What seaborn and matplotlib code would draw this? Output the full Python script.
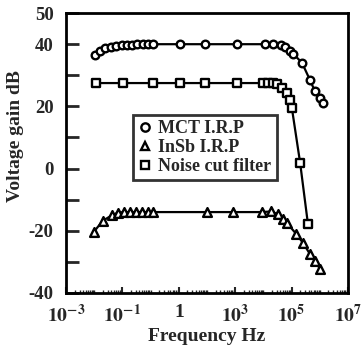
import matplotlib
matplotlib.use("Agg")
import matplotlib.pyplot as plt
import numpy as np
import pandas as pd
import seaborn as sns
from matplotlib.lines import Line2D
from matplotlib.ticker import FixedLocator, FixedFormatter, NullFormatter

# ---------------- data ----------------
mct_freq = [0.0107, 0.0166, 0.025, 0.039, 0.060, 0.093, 0.14, 0.22, 0.34, 0.52, 0.79, 1.23,
            11, 85, 1150, 11500, 21900, 41700, 58900, 87100, 112000, 234000, 447000,
            676000, 1020000, 1320000]
mct_gain = [36.5, 37.9, 38.7, 39.2, 39.5, 39.7, 39.8, 39.9, 40.0, 40.0, 40.0, 40.0,
            40.0, 40.0, 40.0, 40.0, 40.0, 39.8, 39.0, 37.8, 37.0, 34.0, 28.5,
            24.8, 22.7, 21.0]

insb_freq = [0.0098, 0.020, 0.043, 0.069, 0.115, 0.19, 0.30, 0.50, 0.81, 1.2,
             98, 830, 8900, 18600, 33000, 50000, 69000, 145000, 257000, 447000,
             676000, 1020000]
insb_gain = [-20.3, -16.8, -15.0, -14.2, -14.0, -14.0, -14.0, -14.0, -14.0, -14.0,
             -14.0, -14.0, -14.0, -13.8, -14.7, -16.2, -17.6, -21.0, -24.0, -27.5,
             -29.8, -32.3]

noise_freq = [0.0112, 0.107, 1.2, 11, 85, 1150, 9800, 14500, 21900, 30200, 45700,
              69200, 87100, 102000, 200000, 380000]
noise_gain = [27.5, 27.5, 27.5, 27.5, 27.5, 27.5, 27.5, 27.5, 27.5, 27.3, 25.9,
              24.3, 22.1, 19.5, 1.9, -17.9]

series_names = ["MCT I.R.P", "InSb I.R.P", "Noise cut filter"]
series_markers = ["o", "^", "s"]

y_ticks = [-40, -30, -20, -10, 0, 10, 20, 30, 40, 50]
y_ticklabels = ["-40", "", "-20", "", "0", "", "20", "", "40", "50"]
x_ticks = [1e-3, 1e-1, 1e1, 1e3, 1e5, 1e7]
x_ticklabels = ["$10^{-3}$", "$10^{-1}$", "1", "$10^{3}$", "$10^{5}$", "$10^{7}$"]

# ---------------- style ----------------
sns.set_theme(style="ticks")
plt.rcParams["font.family"] = ["Liberation Serif", "DejaVu Serif"]
plt.rcParams["font.weight"] = "bold"
plt.rcParams["mathtext.fontset"] = "stix"
plt.rcParams["mathtext.default"] = "bf"

df = pd.concat([
    pd.DataFrame({"freq": mct_freq, "gain": mct_gain, "series": series_names[0]}),
    pd.DataFrame({"freq": insb_freq, "gain": insb_gain, "series": series_names[1]}),
    pd.DataFrame({"freq": noise_freq, "gain": noise_gain, "series": series_names[2]}),
], ignore_index=True)

fig = plt.figure(figsize=(3.61, 3.45), dpi=100)
ax = fig.add_axes([0.183, 0.151, 0.781, 0.811])

black = {n: "black" for n in series_names}
sns.lineplot(data=df, x="freq", y="gain", hue="series", palette=black,
             sort=False, estimator=None, legend=False, linewidth=1.6, ax=ax)

sizes = {"o": 30, "^": 40, "s": 32}
for name, mk in zip(series_names, series_markers):
    sub = df[df["series"] == name]
    sns.scatterplot(x=sub["freq"], y=sub["gain"], marker=mk, s=sizes[mk],
                    facecolor="white", edgecolor="black", linewidth=1.7,
                    zorder=3, legend=False, ax=ax)

ax.set_xscale("log")
ax.set_xlim(1e-3, 1e7)
ax.set_ylim(-40, 50)

ax.yaxis.set_major_locator(FixedLocator(y_ticks))
ax.yaxis.set_major_formatter(FixedFormatter(y_ticklabels))
ax.xaxis.set_major_locator(FixedLocator(x_ticks))
ax.xaxis.set_major_formatter(FixedFormatter(x_ticklabels))
minor = []
for d in range(-3, 7):
    for m in range(1, 10):
        v = m * 10.0 ** d
        if v not in x_ticks:
            minor.append(v)
ax.xaxis.set_minor_locator(FixedLocator(minor))
ax.xaxis.set_minor_formatter(NullFormatter())

ax.tick_params(axis="y", direction="in", length=9, width=2, labelsize=13.5, pad=9,
               right=False)
ax.tick_params(axis="x", which="major", direction="in", length=4, width=1.5,
               labelsize=14, pad=8, top=False)
ax.tick_params(axis="x", which="minor", direction="in", length=2, width=1, top=False)

for sp in ax.spines.values():
    sp.set_visible(True)
    sp.set_linewidth(2)
    sp.set_color("black")

ax.set_xlabel("Frequency Hz", fontsize=14, fontweight="bold")
ax.set_ylabel("Voltage gain dB", fontsize=14, fontweight="bold")
ax.xaxis.set_label_coords(0.5, -0.125)
ax.yaxis.set_label_coords(-0.15, 0.56)

handles = [Line2D([], [], linestyle="none", marker=mk, markersize=6,
                  markerfacecolor="white", markeredgecolor="black",
                  markeredgewidth=1.7) for mk in series_markers]
leg = ax.legend(handles, series_names, loc="upper left",
                bbox_to_anchor=(0.238, 0.636), borderaxespad=0,
                prop={"size": 13, "weight": "bold"}, frameon=True, fancybox=False,
                handlelength=0.7, handletextpad=0.4, labelspacing=0.1,
                borderpad=0.3)
leg.get_frame().set_edgecolor("black")
leg.get_frame().set_linewidth(2)

fig.savefig("out.png", dpi=100)
